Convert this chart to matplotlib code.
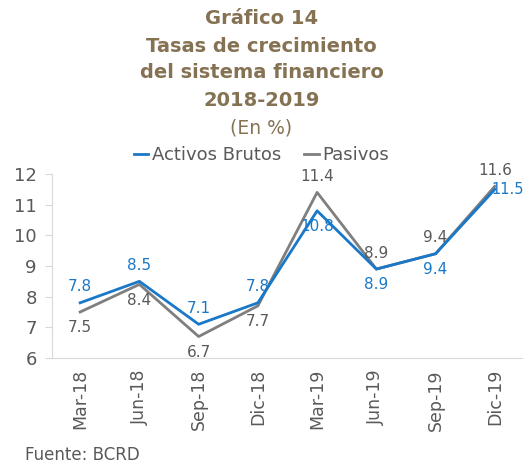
import matplotlib.pyplot as plt

# Datos del gráfico
periodos = ['Mar-18', 'Jun-18', 'Sep-18', 'Dic-18', 'Mar-19', 'Jun-19', 'Sep-19', 'Dic-19']
activos = [7.8, 8.5, 7.1, 7.8, 10.8, 8.9, 9.4, 11.5]
pasivos = [7.5, 8.4, 6.7, 7.7, 11.4, 8.9, 9.4, 11.6]

# posición de las etiquetas: 'a' arriba, 'b' abajo, 'd' derecha
pos_activos = ['a', 'a', 'a', 'a', 'b', 'b', 'b', 'd']
pos_pasivos = ['b', 'b', 'b', 'b', 'a', 'a', 'a', 'a']

azul = '#1A78C8'
gris = '#7F7F7F'
cafe = '#857253'
texto = '#595959'

plt.rcParams['font.family'] = ['DejaVu Sans']

fig = plt.figure(figsize=(5.23, 4.66), dpi=100)
ax = fig.add_axes([52 / 523, 1 - 358 / 466, (523 - 52) / 523, (358 - 174) / 466])

x = range(len(periodos))
ax.plot(x, activos, color=azul, lw=2, label='Activos Brutos', zorder=3)
ax.plot(x, pasivos, color=gris, lw=2, label='Pasivos', zorder=2)

def etiquetas(valores, posiciones, color):
    for i, (v, p) in enumerate(zip(valores, posiciones)):
        if p == 'a':
            ax.annotate(f'{v}', (i, v), xytext=(0, 6), textcoords='offset points',
                        ha='center', va='bottom', color=color, fontsize=11)
        elif p == 'b':
            ax.annotate(f'{v}', (i, v), xytext=(0, -6), textcoords='offset points',
                        ha='center', va='top', color=color, fontsize=11)
        else:
            ax.annotate(f'{v}', (i, v), xytext=(-2.5, 0), textcoords='offset points',
                        ha='left', va='center', color=color, fontsize=10.5)

etiquetas(activos, pos_activos, azul)
etiquetas(pasivos, pos_pasivos, texto)

ax.set_xlim(-0.475, len(periodos) - 0.525)
ax.set_ylim(6, 12)
ax.set_yticks(range(6, 13))
ax.set_xticks(list(x))
ax.set_xticklabels(periodos, rotation=90)
ax.tick_params(axis='x', length=0, labelsize=12.5, colors=texto, pad=8)
ax.tick_params(axis='y', length=5, color='#D9D9D9', labelsize=13, labelcolor=texto, pad=6)
for s in ['top', 'right']:
    ax.spines[s].set_visible(False)
ax.spines['left'].set_color('#D9D9D9')
ax.spines['bottom'].set_color('#D9D9D9')

# Títulos
titulo = dict(ha='center', va='center', fontsize=14, fontweight='bold', color=cafe)
fig.text(0.5, 1 - 18 / 466, 'Gráfico 14', **titulo)
fig.text(0.5, 1 - 46 / 466, 'Tasas de crecimiento', **titulo)
fig.text(0.5, 1 - 73 / 466, 'del sistema financiero', **titulo)
fig.text(0.5, 1 - 100 / 466, '2018-2019', **titulo)
fig.text(0.5, 1 - 128 / 466, '(En %)', ha='center', va='center', fontsize=13.5, color=cafe)

fig.legend(loc='center', bbox_to_anchor=(0.5, 1 - 155 / 466), ncol=2, frameon=False,
           fontsize=13, handlelength=0.8, handletextpad=0.2, columnspacing=1.3,
           labelcolor=texto)

fig.text(25 / 523, 1 - 455 / 466, 'Fuente: BCRD', ha='left', va='center', fontsize=12, color=texto)

plt.savefig('out.png', dpi=100)
